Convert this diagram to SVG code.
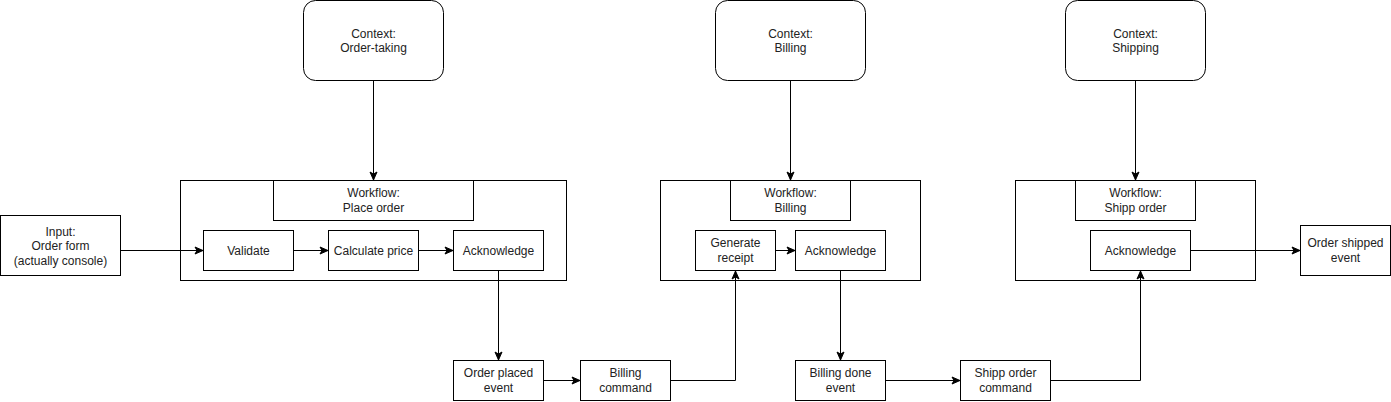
<svg xmlns="http://www.w3.org/2000/svg" width="1391" height="402" viewBox="0 0 1391 402">
<style>
rect{fill:#fff;stroke:#000;stroke-width:1}
text{font-family:"Liberation Sans",Arial,sans-serif;font-size:12px;fill:#222;text-anchor:middle}
.c path{fill:none;stroke:#000;stroke-width:1}
</style>
<defs>
<marker id="a" markerUnits="userSpaceOnUse" markerWidth="10" markerHeight="10" viewBox="0 0 10 10" refX="9" refY="5" orient="auto">
<path d="M1,1.5 L9,5 L1,8.5 L3,5 Z" fill="#000" stroke="#000" stroke-width="1"/>
</marker>
</defs>
<rect x="0" y="0" width="1391" height="402" style="fill:#fff;stroke:none"/>
<g id="ctx-order"><rect x="303.5" y="0.5" width="140" height="80" rx="12"/><text x="373.5" y="37.5">Context:</text><text x="373.5" y="52">Order-taking</text></g>
<g id="ctx-billing"><rect x="715.5" y="0.5" width="150" height="80" rx="12"/><text x="790.5" y="37.5">Context:</text><text x="790.5" y="52">Billing</text></g>
<g id="ctx-shipping"><rect x="1065.5" y="0.5" width="140" height="80" rx="12"/><text x="1135.5" y="37.5">Context:</text><text x="1135.5" y="52">Shipping</text></g>
<g id="wf-place"><rect x="180.5" y="180.5" width="386" height="100"/></g>
<g id="wf-place-title"><rect x="273.5" y="180.5" width="200" height="40"/><text x="373.5" y="197">Workflow:</text><text x="373.5" y="212">Place order</text></g>
<g id="wf-billing"><rect x="660.5" y="180.5" width="260" height="100"/></g>
<g id="wf-billing-title"><rect x="730.5" y="180.5" width="120" height="40"/><text x="790.5" y="197">Workflow:</text><text x="790.5" y="212">Billing</text></g>
<g id="wf-ship"><rect x="1015.5" y="180.5" width="240" height="100"/></g>
<g id="wf-ship-title"><rect x="1075.5" y="180.5" width="120" height="40"/><text x="1135.5" y="197">Workflow:</text><text x="1135.5" y="212">Shipp order</text></g>
<g id="input"><rect x="0.5" y="215.5" width="120" height="60"/><text x="60.5" y="235.5">Input:</text><text x="60.5" y="250">Order form</text><text x="60.5" y="264.5">(actually console)</text></g>
<g id="validate"><rect x="203.5" y="230.5" width="90" height="40"/><text x="248.5" y="254.5">Validate</text></g>
<g id="calc"><rect x="328.5" y="230.5" width="90" height="40"/><text x="373.5" y="254.5">Calculate price</text></g>
<g id="ack1"><rect x="453.5" y="230.5" width="90" height="40"/><text x="498.5" y="254.5">Acknowledge</text></g>
<g id="receipt"><rect x="695.5" y="230.5" width="80" height="40"/><text x="735.5" y="247">Generate</text><text x="735.5" y="262">receipt</text></g>
<g id="ack2"><rect x="795.5" y="230.5" width="90" height="40"/><text x="840.5" y="254.5">Acknowledge</text></g>
<g id="ack3"><rect x="1090.5" y="230.5" width="100" height="40"/><text x="1140.5" y="254.5">Acknowledge</text></g>
<g id="shipped"><rect x="1300.5" y="225.5" width="90" height="50"/><text x="1345.5" y="247">Order shipped</text><text x="1345.5" y="262">event</text></g>
<g id="placed"><rect x="453.5" y="360.5" width="90" height="40"/><text x="498.5" y="377">Order placed</text><text x="498.5" y="392">event</text></g>
<g id="billcmd"><rect x="580.5" y="360.5" width="90" height="40"/><text x="625.5" y="377">Billing</text><text x="625.5" y="392">command</text></g>
<g id="billdone"><rect x="795.5" y="360.5" width="90" height="40"/><text x="840.5" y="377">Billing done</text><text x="840.5" y="392">event</text></g>
<g id="shipcmd"><rect x="960.5" y="360.5" width="90" height="40"/><text x="1005.5" y="377">Shipp order</text><text x="1005.5" y="392">command</text></g>
<g id="connectors" class="c">
<path d="M373.5,80.5 V180" marker-end="url(#a)"/>
<path d="M790.5,80.5 V180" marker-end="url(#a)"/>
<path d="M1135.5,80.5 V180" marker-end="url(#a)"/>
<path d="M120.5,250.5 H203" marker-end="url(#a)"/>
<path d="M293.5,250.5 H328" marker-end="url(#a)"/>
<path d="M418.5,250.5 H453" marker-end="url(#a)"/>
<path d="M498.5,270.5 V360" marker-end="url(#a)"/>
<path d="M543.5,380.5 H580" marker-end="url(#a)"/>
<path d="M670.5,380.5 H735.5 V271" marker-end="url(#a)"/>
<path d="M775.5,250.5 H795" marker-end="url(#a)"/>
<path d="M840.5,270.5 V360" marker-end="url(#a)"/>
<path d="M885.5,380.5 H960" marker-end="url(#a)"/>
<path d="M1050.5,380.5 H1140.5 V271" marker-end="url(#a)"/>
<path d="M1190.5,250.5 H1300" marker-end="url(#a)"/>
</g>
</svg>
